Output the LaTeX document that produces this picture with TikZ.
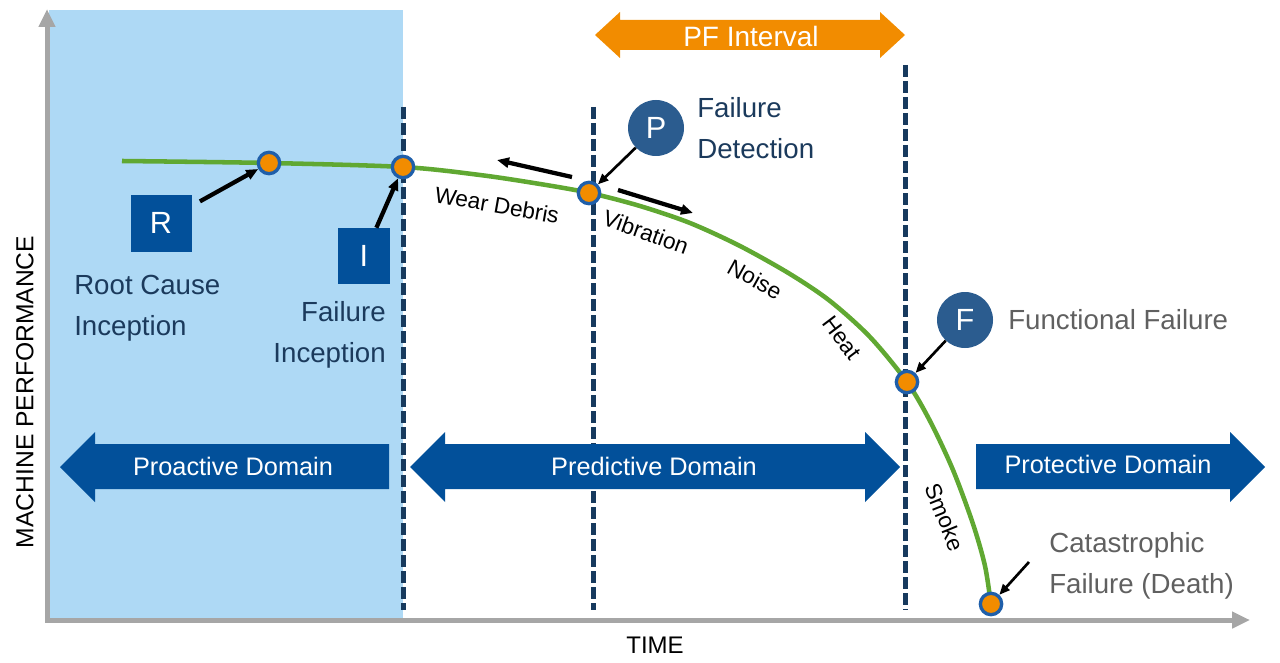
\documentclass[tikz,border=0pt]{standalone}
\usepackage{fontspec}
\setmainfont{Liberation Sans}
\usetikzlibrary{arrows.meta, positioning}

\definecolor{bgblue}{RGB}{174,217,245}
\definecolor{navy}{RGB}{23,58,94}
\definecolor{domblue}{RGB}{2,80,154}
\definecolor{circblue}{RGB}{43,92,143}
\definecolor{pforange}{RGB}{242,140,0}
\definecolor{dotrim}{RGB}{31,95,170}
\definecolor{curvegreen}{RGB}{96,168,50}
\definecolor{axisgray}{RGB}{166,166,166}
\definecolor{labgray}{RGB}{96,96,96}
\definecolor{labnavy}{RGB}{27,58,92}

\begin{document}
\begin{tikzpicture}[x=0.75pt, y=-0.75pt,
    failpt/.style={circle, fill=pforange, draw=dotrim, line width=2.5pt, minimum size=16pt, inner sep=0pt},
    letterbox/.style={fill=domblue, text=white, inner sep=0pt, font=\fontsize{23}{23}\selectfont},
    lettercirc/.style={circle, fill=circblue, text=white, minimum size=42pt, inner sep=0pt, font=\fontsize{23}{23}\selectfont},
    pointer/.style={-{Triangle[length=9pt, width=7.5pt]}, line width=3.2pt},
    thinpointer/.style={-{Triangle[length=8pt, width=6.5pt]}, line width=2pt},
    phase/.style={navy, line width=3.75pt, dash pattern=on 9pt off 3pt},
    domainarrow/.style={fill=domblue},
    domlabel/.style={text=white, inner sep=0pt, font=\fontsize{19}{19}\selectfont},
    biglabel/.style={inner sep=0pt, font=\fontsize{20.75}{31}\selectfont},
    curvelabel/.style={inner sep=0pt, font=\fontsize{17}{17}\selectfont}]
    \useasboundingbox (0,0) rectangle (1280,663);

    % proactive region and axes
    \fill[bgblue] (49,10) rectangle (403,618);
    \draw[axisgray, line width=3.75pt, -{Triangle[length=13.5pt, width=12pt]}] (47,622) -- (47,9);
    \draw[axisgray, line width=3.75pt, -{Triangle[length=13.5pt, width=12pt]}] (45,620) -- (1250,620);
    \node[font=\fontsize{18}{18}\selectfont] (time) at (655,645) {TIME};
    \node[rotate=90, font=\fontsize{18.5}{18.5}\selectfont] (perf) at (25,392) {MACHINE PERFORMANCE};

    % phase boundaries
    \foreach \x/\top in {403/107, 593/107, 905/65}
        \draw[phase] (\x,\top) -- (\x,610);

    % PF interval
    \fill[pforange] (595,35) -- (620,12) -- (620,20) -- (880,20) -- (880,12) -- (905,35)
        -- (880,58) -- (880,50) -- (620,50) -- (620,58) -- cycle;
    \node[text=white, inner sep=0pt, font=\fontsize{21}{21}\selectfont] (pf) at (751,36) {PF Interval};

    % domains
    \fill[domainarrow] (60,467) -- (95,432) -- (95,444) -- (389,444) -- (389,489) -- (95,489) -- (95,502) -- cycle;
    \fill[domainarrow] (410,467) -- (445,432) -- (445,444) -- (865,444) -- (865,432) -- (900,467)
        -- (865,502) -- (865,489) -- (445,489) -- (445,502) -- cycle;
    \fill[domainarrow] (976,444) -- (1230,444) -- (1230,432) -- (1265,467) -- (1230,502) -- (1230,489) -- (976,489) -- cycle;
    \node[domlabel] (proact) at (233,466) {Proactive Domain};
    \node[domlabel] (predict) at (654,466) {Predictive Domain};
    \node[domlabel] (protect) at (1108,464) {Protective Domain};

    % P-F curve
    \draw[curvegreen, line width=3.4pt] plot[smooth, tension=0.5] coordinates {(122,161) (269,163) (403,167)
        (480,175) (540,184) (590,193) (640,206) (690,223) (740,246) (790,274) (830,301) (870,337)
        (907,382) (930,421) (953,470) (973,524) (985,566) (991,605)};
    \node[failpt] (rdot) at (269,163) {};
    \node[failpt] (idot) at (403,167) {};
    \node[failpt] (pdot) at (589,193) {};
    \node[failpt] (fdot) at (907,382) {};
    \node[failpt] (cdot) at (991,604) {};

    \node[curvelabel, rotate=-10] (wear) at (497,205) {Wear Debris};
    \node[curvelabel, rotate=-20] (vib) at (646,232) {Vibration};
    \node[curvelabel, rotate=-29] (noise) at (755,279) {Noise};
    \node[curvelabel, rotate=-53] (heat) at (842,338) {Heat};
    \node[curvelabel, rotate=-68] (smoke) at (945,517) {Smoke};

    \coordinate (wd0) at (572,177);
    \coordinate (wd1) at (497,160);
    \coordinate (vb0) at (618,190);
    \coordinate (vb1) at (693,213);
    \draw[pointer] (wd0) -- (wd1);
    \draw[pointer] (vb0) -- (vb1);

    % markers and their labels
    \node[letterbox, minimum width=45.75pt, minimum height=42.75pt] (rbox) at (161,223) {R};
    \node[letterbox, minimum width=39pt, minimum height=42pt] (ibox) at (364,256) {I};
    \node[lettercirc] (pcirc) at (656,128) {P};
    \node[lettercirc] (fcirc) at (965,320) {F};

    \node[biglabel, anchor=west, align=left, text=labnavy] (rootlab) at (74,308) {Root Cause\\Inception};
    \node[biglabel, anchor=east, align=right, text=labnavy] (inclab) at (386,335) {Failure\\Inception};
    \node[biglabel, anchor=west, align=left, text=labnavy] (detlab) at (697,128) {Failure\\Detection};
    \node[biglabel, anchor=west, text=labgray] (funclab) at (1008,320) {Functional Failure};
    \node[biglabel, anchor=west, align=left, text=labgray] (cat) at (1049,566) {Catastrophic\\Failure (Death)};
    \coordinate (catptr) at (1029,562);

    \draw[pointer, shorten <=7pt] (rbox) -- (rdot);
    \draw[pointer] (ibox) -- (idot);
    \draw[thinpointer] (pcirc) -- (pdot);
    \draw[thinpointer] (fcirc) -- (fdot);
    \draw[thinpointer] (catptr) -- (cdot);
\end{tikzpicture}
\end{document}
